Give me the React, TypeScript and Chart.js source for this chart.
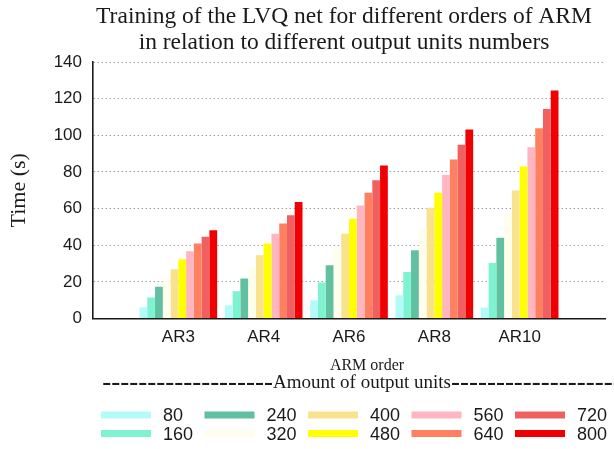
import React, { useEffect, useRef } from 'react';
import { Chart, registerables } from 'chart.js';

Chart.register(...registerables);

// ---- data ----
const categories = ['AR3', 'AR4', 'AR6', 'AR8', 'AR10'];
const seriesNames = ['80', '160', '240', '320', '400', '480', '560', '640', '720', '800'];
const units80 = [6.0, 7.2, 10.0, 12.7, 6.0];
const units160 = [11.5, 14.9, 19.6, 25.4, 30.3];
const units240 = [17.3, 21.8, 29.0, 37.2, 44.1];
const units320 = [22.0, 28.0, 38.0, 49.0, 57.0];
const units400 = [26.9, 34.5, 46.3, 60.5, 69.9];
const units480 = [32.3, 40.9, 54.5, 68.7, 83.0];
const units560 = [36.7, 46.3, 61.7, 78.5, 93.5];
const units640 = [40.9, 51.8, 68.7, 86.8, 103.9];
const units720 = [44.6, 56.3, 75.4, 94.8, 114.4];
const units800 = [48.2, 63.6, 83.5, 103.2, 124.4];
const seriesColors = ['#b3fbf8', '#7ff2d0', '#60c0a0', '#fffeec', '#f8e38c', '#ffff00', '#ffb6c1', '#ff8060', '#f06060', '#f00000'];
const titleLines = ['Training of the LVQ net for different orders of ARM', 'in relation to different output units numbers'];
const yAxisTitle = 'Time (s)';
const xAxisTitle = 'ARM order';
const keyTitle = 'Amount of output units';
const yMin = 0;
const yMax = 140;
const yStep = 20;

const TEXT = '#1a1a1a';

export default function App() {
  const ref = useRef<HTMLCanvasElement>(null);

  useEffect(() => {
    if (!ref.current) return;
    const allSeries = [units80, units160, units240, units320, units400, units480, units560, units640, units720, units800];
    const labels = ['', ...categories, ''];
    const datasets = allSeries.map((vals, i) => ({
      label: seriesNames[i],
      data: [null, ...vals, null],
      backgroundColor: seriesColors[i],
      borderWidth: 0,
      categoryPercentage: 0.91,
      barPercentage: 1.0,
    }));

    const extras = {
      id: 'extras',
      beforeDraw(chart: any) {
        const { ctx, width, height } = chart;
        ctx.save();
        ctx.fillStyle = '#ffffff';
        ctx.fillRect(0, 0, width, height);
        ctx.restore();
      },
      afterDraw(chart: any) {
        const ctx = chart.ctx as CanvasRenderingContext2D;
        ctx.save();
        ctx.fillStyle = TEXT;
        ctx.textAlign = 'center';
        ctx.textBaseline = 'alphabetic';
        ctx.font = '23.5px "Liberation Serif"';
        ctx.fillText(titleLines[0], 344, 23);
        ctx.fillText(titleLines[1], 344, 49);

        // x-axis title
        ctx.font = '16px "Liberation Serif"';
        ctx.textBaseline = 'middle';
        ctx.fillText(xAxisTitle, 367, 366);

        // key title with dash runs
        const ky = 383;
        const kcx = 362;
        ctx.font = '19px "Liberation Serif"';
        const tw = ctx.measureText(keyTitle).width;
        ctx.fillText(keyTitle, kcx, ky);
        ctx.font = '27px "Liberation Serif"';
        const dw = ctx.measureText('-').width;
        const nLeft = Math.max(0, Math.floor((kcx - tw / 2 - 99) / dw));
        ctx.textAlign = 'right';
        ctx.fillText('-'.repeat(nLeft), kcx - tw / 2, ky);
        ctx.textAlign = 'left';
        ctx.fillText('-'.repeat(nLeft + 4), kcx + tw / 2, ky);

        // legend (column-major, 2 rows)
        ctx.font = '18px "Liberation Sans"';
        ctx.textAlign = 'left';
        seriesNames.forEach((name, i) => {
          const col = Math.floor(i / 2);
          const row = i % 2;
          const x = 101 + col * 103.5;
          const y = 415 + row * 18.5;
          ctx.fillStyle = seriesColors[i];
          ctx.fillRect(x, y - 3.5, 50, 7);
          ctx.fillStyle = TEXT;
          ctx.fillText(name, x + 62, y + 1.5);
        });
        ctx.restore();
      },
    };

    const chart = new Chart(ref.current, {
      type: 'bar',
      data: { labels, datasets: datasets as any },
      options: {
        responsive: false,
        animation: false,
        layout: { padding: { top: 62, bottom: 69, left: 0, right: 0 } },
        plugins: {
          legend: { display: false },
          title: { display: false },
          tooltip: { enabled: false },
        },
        scales: {
          x: {
            type: 'category',
            offset: false,
            grid: { display: false, drawTicks: false },
            border: { display: true, color: TEXT, width: 1.6 },
            ticks: {
              autoSkip: false,
              maxRotation: 0,
              padding: 9,
              color: TEXT,
              font: { family: 'Liberation Sans', size: 17 },
            },
            title: { display: false },
            afterFit: (s: any) => {
              s.height = 61.5;
            },
          },
          y: {
            type: 'linear',
            min: yMin,
            max: yMax,
            ticks: {
              stepSize: yStep,
              padding: 11,
              color: TEXT,
              font: { family: 'Liberation Sans', size: 17 },
            },
            grid: { color: '#a0a0a0', lineWidth: 1, drawTicks: false },
            border: { display: true, color: TEXT, width: 1.6, dash: [1.5, 2.5] },
            title: {
              display: true,
              text: yAxisTitle,
              color: TEXT,
              font: { family: 'Liberation Serif', size: 22 },
              padding: { top: 6, bottom: 0 },
            },
            afterFit: (s: any) => {
              s.width = 93;
            },
          },
        },
      },
      plugins: [extras],
    });
    return () => chart.destroy();
  }, []);

  return (
    <div style={{ position: 'fixed', left: 0, top: 0, width: 614, height: 449, background: '#fff' }}>
      <canvas ref={ref} width={614} height={449} style={{ display: 'block', width: 614, height: 449 }} />
    </div>
  );
}
